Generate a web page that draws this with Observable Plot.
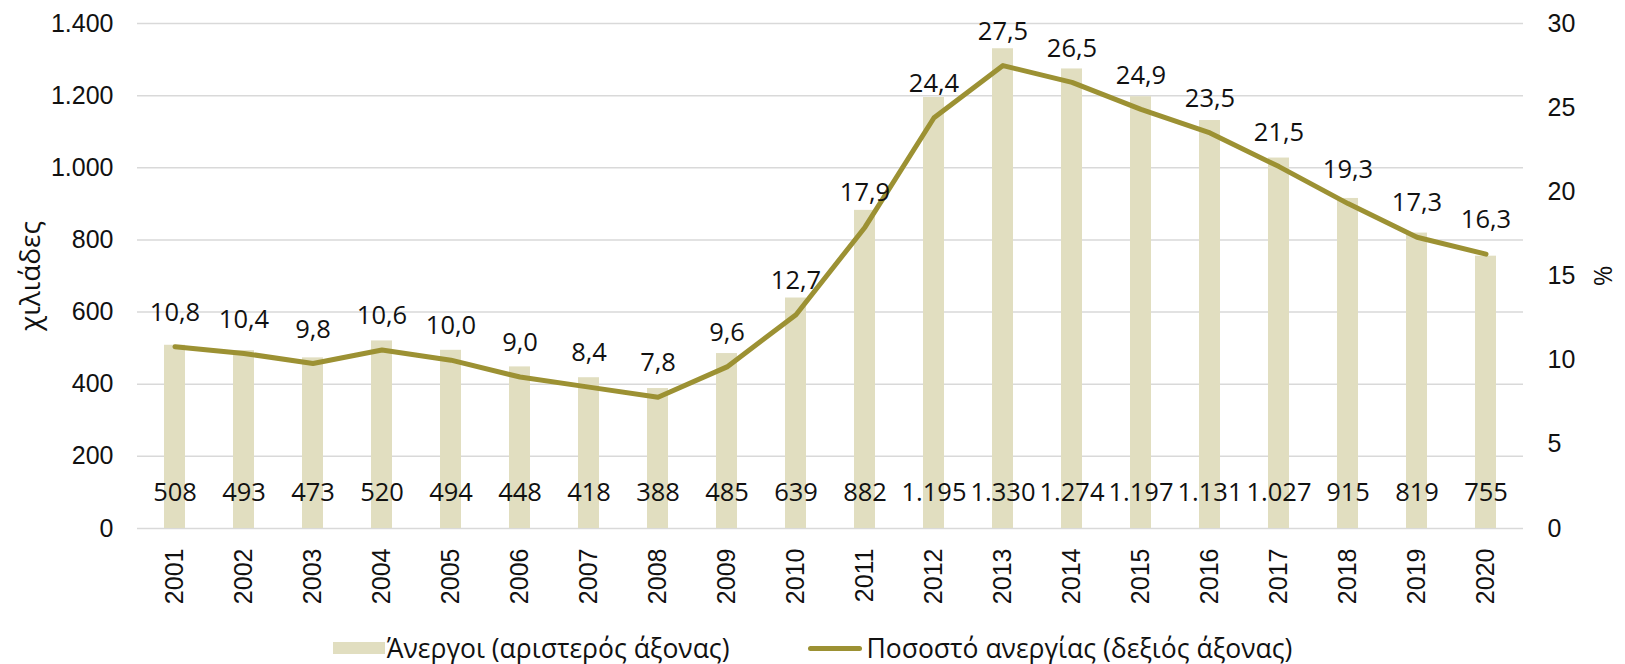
<!DOCTYPE html>
<html><head><meta charset="utf-8">
<script src="https://cdn.jsdelivr.net/npm/d3@7"></script>
<script src="https://cdn.jsdelivr.net/npm/@observablehq/plot@0.6"></script>
<style>
body{margin:0;background:#fff;width:1625px;height:664px;overflow:hidden}
#legend{display:flex;justify-content:center;align-items:center;height:40px;margin-top:8px;width:1625px;font-family:"Open Sans",sans-serif;font-size:26.5px;color:#111;box-sizing:border-box}
.item{display:flex;align-items:center}
.sw-bar{width:52px;height:12px;margin-right:2px}
.sw-line{width:54px;height:5px;border-radius:3px;margin-right:4px}
.gap{width:79px}
</style></head><body><div id="chart"></div><div id="legend"></div>
<script>
const years = ["2001","2002","2003","2004","2005","2006","2007","2008","2009","2010","2011","2012","2013","2014","2015","2016","2017","2018","2019","2020"];
const unemployed = [508,493,473,520,494,448,418,388,485,639,882,1195,1330,1274,1197,1131,1027,915,819,755];
const rate = [10.8,10.4,9.8,10.6,10.0,9.0,8.4,7.8,9.6,12.7,17.9,24.4,27.5,26.5,24.9,23.5,21.5,19.3,17.3,16.3];
const leftTicks = [0,200,400,600,800,1000,1200,1400];
const rightTicks = [0,5,10,15,20,25,30];
const seriesNames = ["Άνεργοι (αριστερός άξονας)","Ποσοστό ανεργίας (δεξιός άξονας)"];
const axisTitles = ["χιλιάδες","%"];
const colors = ["#E1DEC0","#9C9133"];

const locale = d3.formatLocale({decimal:",",thousands:".",grouping:[3],currency:["","€"]});
const fmtInt = locale.format(",d");
const fmtPct = locale.format(",.1f");
const k = 1400/30;
const data = years.map((year,i)=>({year,unemployed:unemployed[i],rate:rate[i],rateScaled:rate[i]*k}));
const textStyle = {fontFamily:"Open Sans",fontSize:25.5,fill:"#111"};

const plot = Plot.plot({
  width:1625, height:620, marginLeft:137, marginRight:102, marginTop:23, marginBottom:92,
  style:{fontFamily:"Liberation Sans, Arial, sans-serif",fontSize:"25px",color:"#111",background:"#fff"},
  x:{type:"band",domain:years,paddingInner:0.7,paddingOuter:0.35},
  y:{domain:[0,1400]},
  marks:[
    Plot.gridY(leftTicks,{stroke:"#d9d9d9",strokeOpacity:1,strokeWidth:1.5}),
    Plot.barY(data,{x:"year",y:"unemployed",fill:colors[0]}),
    Plot.axisY(leftTicks,{anchor:"left",tickSize:0,tickPadding:24,tickFormat:fmtInt,label:null}),
    Plot.axisY(rightTicks.map(v=>v*k),{anchor:"right",tickSize:0,tickPadding:24,tickFormat:d=>fmtInt(Math.round(d/k)),label:null}),
    Plot.axisX({tickSize:0,tickRotate:-90,tickPadding:20,label:null}),
    Plot.line(data,{x:"year",y:"rateScaled",stroke:colors[1],strokeWidth:5,strokeLinecap:"round",strokeLinejoin:"round"}),
    Plot.text(data,{x:"year",y:"rateScaled",text:d=>fmtPct(d.rate),dy:-34,...textStyle}),
    Plot.text(data,{x:"year",frameAnchor:"bottom",text:d=>fmtInt(d.unemployed),dy:-28,...textStyle}),
    Plot.text([axisTitles[0]],{frameAnchor:"left",textAnchor:"middle",dx:-106,rotate:-90,text:d=>d,...textStyle,fontSize:28}),
    Plot.text([axisTitles[1]],{frameAnchor:"right",textAnchor:"middle",dx:80,rotate:-90,text:d=>d,...textStyle,fontSize:25})
  ]
});
document.getElementById("chart").append(plot);

const legend = document.getElementById("legend");
legend.innerHTML = `<div class="item"><div class="sw-bar" style="background:${colors[0]}"></div><span>${seriesNames[0]}</span></div><div class="gap"></div><div class="item"><div class="sw-line" style="background:${colors[1]}"></div><span>${seriesNames[1]}</span></div>`;
</script></body></html>
